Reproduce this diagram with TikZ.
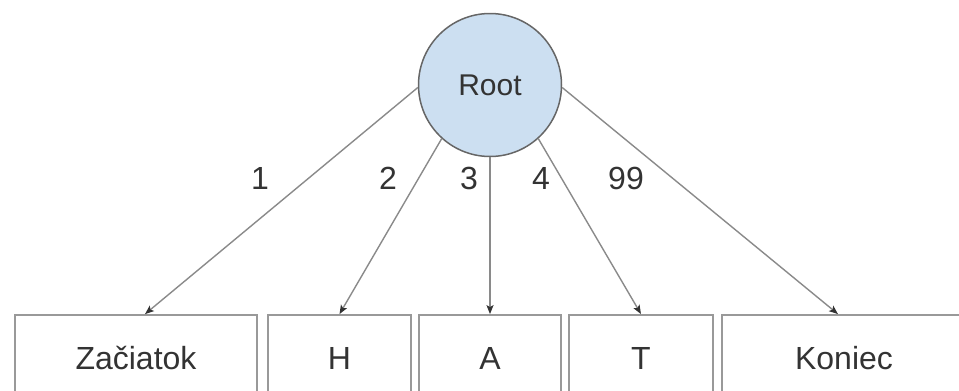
\documentclass[tikz,border=0pt]{standalone}
\usepackage{fontspec}
\setmainfont{Liberation Sans}
\usetikzlibrary{arrows.meta}
\definecolor{rootfill}{HTML}{CCDFF1}
\definecolor{edgegray}{HTML}{8A8A8A}
\definecolor{boxgray}{HTML}{999999}
\definecolor{txt}{HTML}{333333}
\tikzset{
  rootnode/.style={circle, draw=black!60, fill=rootfill, line width=1.5pt, minimum size=143pt, inner sep=0pt, font=\fontsize{30}{34}\selectfont, text=txt},
  leaf/.style={rectangle, draw=boxgray, line width=1.8pt, minimum height=86pt, inner sep=0pt, font=\fontsize{32}{36}\selectfont, text=txt},
  conn/.style={draw=edgegray, line width=1.4pt, -{Stealth[length=9pt,width=7pt,inset=2pt,color=black!80]}},
  lbl/.style={font=\fontsize{32}{36}\selectfont, text=txt, inner sep=0pt}
}
\begin{document}
\begin{tikzpicture}[x=1pt,y=-1pt]
\useasboundingbox (0,0) rectangle (959,391);
\clip (0,0) rectangle (959,391);
\node[rootnode] (root) at (490,85) {Root};
\node[leaf, minimum width=242pt] (z) at (136,358) {Začiatok};
\node[leaf, minimum width=143pt] (h) at (339.5,358) {H};
\node[leaf, minimum width=142pt] (a) at (490,358) {A};
\node[leaf, minimum width=144pt] (t) at (641,358) {T};
\node[leaf, minimum width=244pt] (k) at (844,358) {Koniec};
\draw[conn] (root.182) -- ([xshift=9pt]z.north);
\draw[conn] (root.228) -- (h.north);
\draw[conn] (root.south) -- (a.north);
\draw[conn] (root.312) -- (t.north);
\draw[conn] (root.-2) -- ([xshift=-6pt]k.north);
\node[lbl] (l1) at (260,178) {1};
\node[lbl] (l2) at (388,178) {2};
\node[lbl] (l3) at (469,178) {3};
\node[lbl] (l4) at (541,178) {4};
\node[lbl] (l99) at (626,178) {99};
\end{tikzpicture}
\end{document}
